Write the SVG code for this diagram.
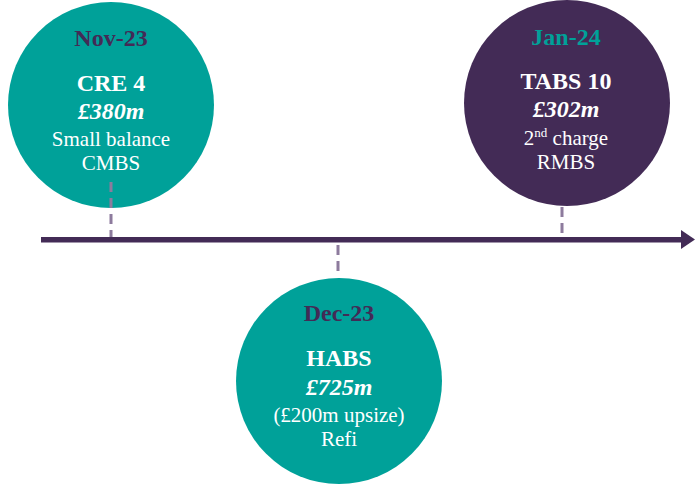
<svg xmlns="http://www.w3.org/2000/svg" width="695" height="484" viewBox="0 0 695 484">
<style>
.teal{fill:#00A199}
.purple{fill:#432B56}
text{font-family:"Liberation Serif","Times New Roman",serif;text-anchor:middle}
.date{font-size:24px;font-weight:bold}
.title{font-size:24px;font-weight:bold;fill:#fff}
.amt{font-size:24px;font-weight:bold;font-style:italic;fill:#fff}
.desc{font-size:21px;fill:#fff}
.dash{stroke:#8D7B9D;stroke-width:3;stroke-dasharray:10 6;fill:none}
</style>
<rect width="695" height="484" fill="#fff"/>
<g id="nov23">
<circle class="teal" cx="111" cy="105" r="103"/>
<text class="date purple" x="111" y="46">Nov-23</text>
<text class="title" x="111" y="91">CRE 4</text>
<text class="amt" x="111" y="119">£380m</text>
<text class="desc" x="111" y="146">Small balance</text>
<text class="desc" x="111" y="170">CMBS</text>
</g>
<g id="jan24">
<circle class="purple" cx="567" cy="103" r="103"/>
<text class="date teal" x="566" y="45">Jan-24</text>
<text class="title" x="566" y="89">TABS 10</text>
<text class="amt" x="566" y="117">£302m</text>
<text class="desc" x="566" y="145">2<tspan font-size="13" dy="-8">nd</tspan><tspan dy="8"> charge</tspan></text>
<text class="desc" x="566" y="169">RMBS</text>
</g>
<g id="dec23">
<circle class="teal" cx="339" cy="381" r="103"/>
<text class="date purple" x="339" y="321">Dec-23</text>
<text class="title" x="339" y="366">HABS</text>
<text class="amt" x="339" y="395">£725m</text>
<text class="desc" x="339" y="422">(£200m upsize)</text>
<text class="desc" x="339" y="446">Refi</text>
</g>
<g id="connectors">
<line class="dash" x1="111" y1="182" x2="111" y2="238"/>
<line class="dash" x1="562" y1="207" x2="562" y2="237"/>
<line class="dash" x1="338" y1="245" x2="338" y2="276"/>
<rect x="41" y="237" width="642" height="5.5" fill="#432B56"/>
<polygon points="681,230 695,239.5 681,249" fill="#432B56"/>
</g>
</svg>
